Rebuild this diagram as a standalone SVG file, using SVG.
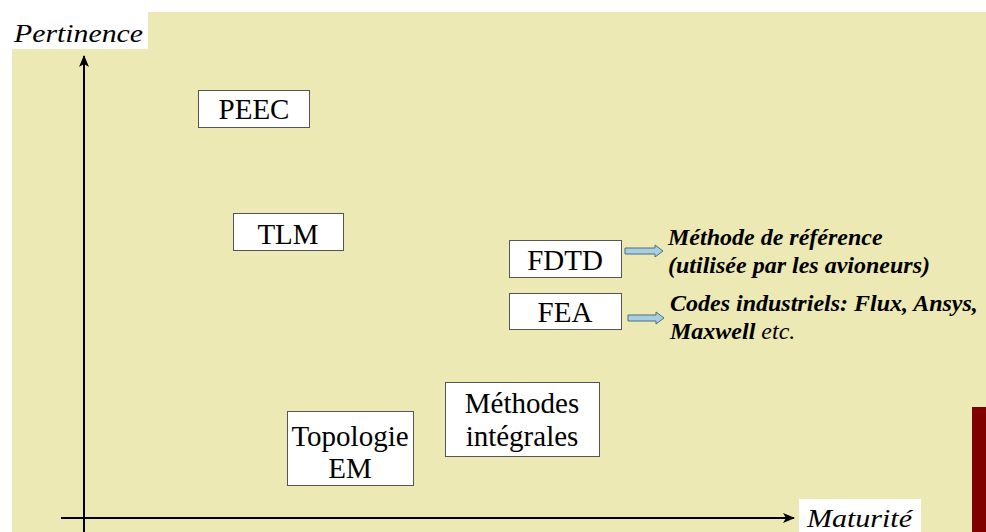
<svg xmlns="http://www.w3.org/2000/svg" width="986" height="532" viewBox="0 0 986 532">
<defs>
<style>
.box{fill:#fff;stroke:#555;stroke-width:1}
.lbl{font-family:"Liberation Serif","Times New Roman",serif;font-size:29px;fill:#000;text-anchor:middle}
.ax{font-family:"Liberation Serif","Times New Roman",serif;font-size:26px;font-style:italic;fill:#000}
.note{font-family:"Liberation Serif","Times New Roman",serif;font-size:24px;font-style:italic;font-weight:bold;fill:#000}
.axis{stroke:#000;stroke-width:2;fill:none}
.barr{fill:#a8cfe0;stroke:#4a6f80;stroke-width:1}
</style>
<marker id="ah" viewBox="0 0 12 10" refX="11" refY="5" markerWidth="12" markerHeight="10" markerUnits="userSpaceOnUse" orient="auto">
<path d="M0,0 L12,5 L0,10 L3,5 Z" fill="#000"/>
</marker>
</defs>
<rect x="0" y="0" width="986" height="532" fill="#fff"/>
<rect x="12" y="12" width="974" height="520" fill="#ece9b4"/>
<rect x="972" y="407" width="14" height="125" fill="#800000"/>
<g id="connectors">
<line class="axis" x1="84" y1="532" x2="84" y2="56" marker-end="url(#ah)"/>
<line class="axis" x1="61" y1="518" x2="794" y2="518" marker-end="url(#ah)"/>
<path class="barr" d="M625,248 L655,248 L655,245 L663,251 L655,257 L655,254 L625,254 Z"/>
<path class="barr" d="M628,315 L656,315 L656,312 L664,318 L656,324 L656,321 L628,321 Z"/>
</g>
<g id="axis-y-label">
<rect x="12" y="12" width="136" height="37" fill="#fff"/>
<text class="ax" x="14" y="42" textLength="129" lengthAdjust="spacingAndGlyphs">Pertinence</text>
</g>
<g id="axis-x-label">
<rect x="799" y="499" width="122" height="33" fill="#fff"/>
<text class="ax" x="807" y="527" textLength="105" lengthAdjust="spacingAndGlyphs">Maturité</text>
</g>
<g id="peec">
<rect class="box" x="198.5" y="90.5" width="111" height="37"/>
<text class="lbl" x="254" y="119">PEEC</text>
</g>
<g id="tlm">
<rect class="box" x="233.5" y="213.5" width="110" height="37"/>
<text class="lbl" x="288" y="244">TLM</text>
</g>
<g id="fdtd">
<rect class="box" x="509.5" y="240.5" width="112" height="37"/>
<text class="lbl" x="565" y="270">FDTD</text>
</g>
<g id="fea">
<rect class="box" x="509.5" y="293.5" width="112" height="36"/>
<text class="lbl" x="565" y="322">FEA</text>
</g>
<g id="topologie">
<rect class="box" x="287.5" y="411.5" width="126" height="74"/>
<text class="lbl" x="350" y="446">Topologie</text>
<text class="lbl" x="350" y="478">EM</text>
</g>
<g id="methodes-integrales">
<rect class="box" x="445.5" y="382.5" width="154" height="74"/>
<text class="lbl" x="522" y="413">Méthodes</text>
<text class="lbl" x="522" y="446">intégrales</text>
</g>
<g id="note-fdtd">
<text class="note" x="668" y="245">Méthode de référence</text>
<text class="note" x="668" y="273">(utilisée par les avioneurs)</text>
</g>
<g id="note-fea">
<text class="note" x="670" y="311">Codes industriels: Flux, Ansys,</text>
<text class="note" x="670" y="339">Maxwell <tspan font-weight="normal">etc.</tspan></text>
</g>
</svg>
